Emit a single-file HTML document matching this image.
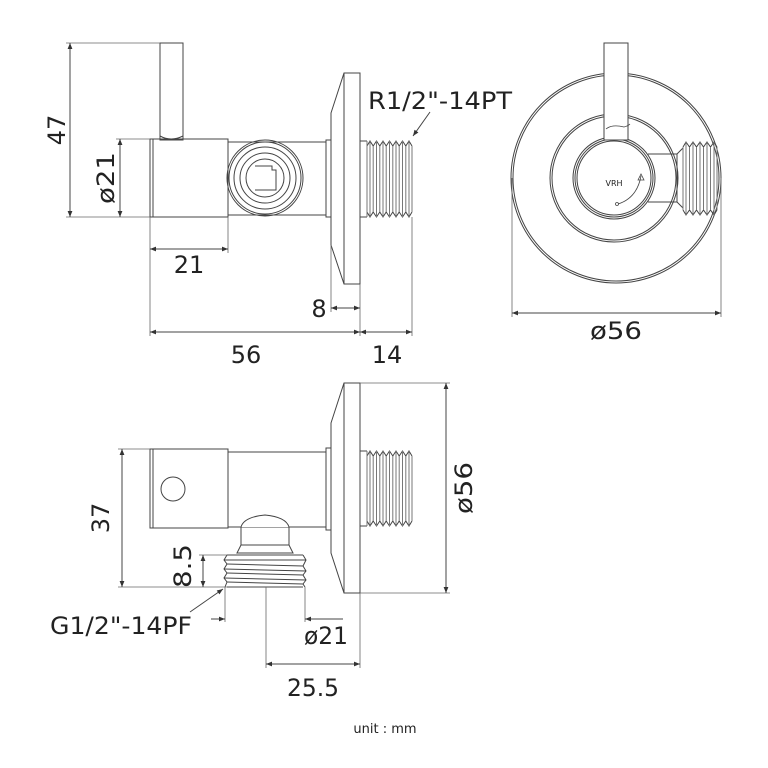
<!DOCTYPE html>
<html><head><meta charset="utf-8"><style>
html,body{margin:0;padding:0;background:#fff;}
svg{display:block;}
text{font-family:"DejaVu Sans","Liberation Sans",sans-serif;fill:#222;}
</style></head><body>
<svg width="768" height="768" viewBox="0 0 768 768" xmlns="http://www.w3.org/2000/svg">
<defs>
<marker id="a" viewBox="0 0 10 10" refX="10" refY="5" markerWidth="8" markerHeight="6" orient="auto-start-reverse" markerUnits="userSpaceOnUse"><path d="M0,1 L10,5 L0,9 z" fill="#333"/></marker>
</defs>
<g fill="none" stroke="#444" stroke-width="1">
<!-- ===== TOP VIEW ===== -->
<rect x="160" y="43" width="23" height="97"/>
<path d="M160,136 Q171,142 183,136"/>
<rect x="150" y="139" width="78" height="78"/>
<line x1="153" y1="139" x2="153" y2="217"/>
<rect x="228" y="142" width="98" height="73"/>
<rect x="326" y="140" width="5" height="77"/>
<circle cx="265" cy="178" r="38"/>
<circle cx="265" cy="178" r="36"/>
<circle cx="265" cy="178" r="31"/>
<circle cx="265" cy="178" r="25"/>
<circle cx="265" cy="178" r="19"/>
<path d="M255,166 L272,166 L272,170 L276,170 L276,190 L255,190"/>
<path d="M331,113 L344,73 L360,73 L360,284 L344,284 L331,245 Z"/>
<line x1="344" y1="73" x2="344" y2="284"/>
<line x1="360" y1="141" x2="367" y2="141"/><line x1="360" y1="217" x2="367" y2="217"/>
<path d="M367,146 L370,141 L373.2,146 L376.5,141 L379.8,146 L383,141 L386.2,146 L389.5,141 L392.8,146 L396,141 L399.2,146 L402.5,141 L405.8,146 L409,141 L412,146"/>
<path d="M367,212 L370,217 L373.2,212 L376.5,217 L379.8,212 L383,217 L386.2,212 L389.5,217 L392.8,212 L396,217 L399.2,212 L402.5,217 L405.8,212 L409,217 L412,212"/>
<path d="M367,141 V217 M370,141 V217 M373.2,146 V212 M376.5,141 V217 M379.8,146 V212 M383,141 V217 M386.2,146 V212 M389.5,141 V217 M392.8,146 V212 M396,141 V217 M399.2,146 V212 M402.5,141 V217 M405.8,146 V212 M409,141 V217 M412,146 V212" stroke="#777"/>
<!-- dims top -->
<g stroke="#666" stroke-width="0.8">
<line x1="66" y1="43" x2="160" y2="43"/>
<line x1="66" y1="217" x2="150" y2="217"/>
<line x1="116" y1="139" x2="150" y2="139"/>
<line x1="150" y1="217" x2="150" y2="336"/>
<line x1="228" y1="217" x2="228" y2="253"/>
<line x1="331" y1="245" x2="331" y2="312"/>
<line x1="360" y1="284" x2="360" y2="336"/>
<line x1="412" y1="217" x2="412" y2="336"/>
</g>
<line x1="70" y1="43" x2="70" y2="217" marker-start="url(#a)" marker-end="url(#a)"/>
<line x1="120" y1="139" x2="120" y2="217" marker-start="url(#a)" marker-end="url(#a)"/>
<line x1="150" y1="249" x2="228" y2="249" marker-start="url(#a)" marker-end="url(#a)"/>
<line x1="331" y1="308" x2="360" y2="308" marker-start="url(#a)" marker-end="url(#a)"/>
<line x1="150" y1="332" x2="360" y2="332" marker-start="url(#a)" marker-end="url(#a)"/>
<line x1="360" y1="332" x2="412" y2="332" marker-start="url(#a)" marker-end="url(#a)"/>
<line x1="430" y1="112" x2="413" y2="136" marker-end="url(#a)"/>

<!-- ===== RIGHT VIEW ===== -->
<circle cx="616" cy="178" r="105"/>
<circle cx="616" cy="178" r="103"/>
<circle cx="614" cy="178" r="64"/>
<circle cx="614" cy="178" r="62"/>
<circle cx="614" cy="178" r="41"/>
<circle cx="614" cy="178" r="39"/>
<circle cx="614" cy="178" r="37"/>
<rect x="604" y="43" width="24" height="97" fill="#fff"/>
<path d="M648,154 L677,154 L683,148 M648,202 L677,202 L683,208 M677,154 V202"/>
<path d="M683,147 L686,142 L689.5,147 L693,142 L696.5,147 L700,142 L703.5,147 L707,142 L710.5,147 L714,142 L717,147"/>
<path d="M683,210 L686,215 L689.5,210 L693,215 L696.5,210 L700,215 L703.5,210 L707,215 L710.5,210 L714,215 L717,210"/>
<path d="M683,147 V210 M686,142 V215 M689.5,147 V210 M693,142 V215 M696.5,147 V210 M700,142 V215 M703.5,147 V210 M707,142 V215 M710.5,147 V210 M714,142 V215 M717,147 V210" stroke="#777"/>
<path d="M606,129 Q612,124 624,127 Q628,126 630,124" stroke-width="0.8"/>
<path d="M618,204 Q637,198 641,176" stroke-width="0.8"/>
<circle cx="617" cy="204" r="1.5" stroke-width="0.8"/>
<path d="M638,180 L641,174 L644,180 Z" stroke-width="0.8"/>
<line x1="512" y1="178" x2="512" y2="317" stroke="#666" stroke-width="0.8"/>
<line x1="721" y1="178" x2="721" y2="317" stroke="#666" stroke-width="0.8"/>
<line x1="512" y1="313" x2="721" y2="313" marker-start="url(#a)" marker-end="url(#a)"/>

<!-- ===== BOTTOM VIEW ===== -->
<rect x="150" y="449" width="78" height="79"/>
<line x1="153" y1="449" x2="153" y2="528"/>
<circle cx="173" cy="489" r="12"/>
<rect x="228" y="452" width="98" height="75"/>
<rect x="326" y="448" width="5" height="82"/>
<path d="M331,423 L344,383 L360,383 L360,593 L344,593 L331,553 Z"/>
<line x1="344" y1="383" x2="344" y2="593"/>
<line x1="360" y1="451" x2="367" y2="451"/><line x1="360" y1="526" x2="367" y2="526"/>
<path d="M367,456 L370,451 L373.2,456 L376.5,451 L379.8,456 L383,451 L386.2,456 L389.5,451 L392.8,456 L396,451 L399.2,456 L402.5,451 L405.8,456 L409,451 L412,456"/>
<path d="M367,521 L370,526 L373.2,521 L376.5,526 L379.8,521 L383,526 L386.2,521 L389.5,526 L392.8,521 L396,526 L399.2,521 L402.5,526 L405.8,521 L409,526 L412,521"/>
<path d="M367,451 V526 M370,451 V526 M373.2,456 V521 M376.5,451 V526 M379.8,456 V521 M383,451 V526 M386.2,456 V521 M389.5,451 V526 M392.8,456 V521 M396,451 V526 M399.2,456 V521 M402.5,451 V526 M405.8,456 V521 M409,451 V526 M412,456 V521" stroke="#777"/>
<!-- down branch -->
<path d="M241,527 V545 M289,527 V545 M241,527 Q244,517 265,515 Q286,517 289,527" fill="#fff"/>
<path d="M241,545 L237,553 L293,553 L289,545 Z"/>
<path d="M227,555 L303,555 M224,560 L306,560 M227,564 L303,566 M224,569 L306,571 M227,573 L303,575 M224,578 L306,580 M227,582 L303,584 M227,587 L303,587" />
<path d="M227,555 L224,560 L227,564 L224,569 L227,573 L224,578 L227,582 L225,587 M303,555 L306,560 L303,566 L306,571 L303,575 L306,580 L303,584 L305,587"/>
<g stroke="#666" stroke-width="0.8">
<line x1="118" y1="449" x2="150" y2="449"/>
<line x1="118" y1="587" x2="227" y2="587"/>
<line x1="199" y1="555" x2="227" y2="555"/>
<line x1="360" y1="383" x2="450" y2="383"/>
<line x1="360" y1="593" x2="450" y2="593"/>
<line x1="225" y1="587" x2="225" y2="622"/>
<line x1="305" y1="587" x2="305" y2="622"/>
<line x1="266" y1="587" x2="266" y2="668"/>
<line x1="360" y1="593" x2="360" y2="668"/>
</g>
<line x1="122" y1="449" x2="122" y2="587" marker-start="url(#a)" marker-end="url(#a)"/>
<line x1="203" y1="555" x2="203" y2="587" marker-start="url(#a)" marker-end="url(#a)"/>
<line x1="446" y1="383" x2="446" y2="593" marker-start="url(#a)" marker-end="url(#a)"/>
<line x1="211" y1="619" x2="225" y2="619" marker-end="url(#a)"/>
<line x1="343" y1="619" x2="305" y2="619" marker-end="url(#a)"/>
<line x1="266" y1="664" x2="360" y2="664" marker-start="url(#a)" marker-end="url(#a)"/>
<line x1="190" y1="612" x2="223" y2="589" marker-end="url(#a)"/>
</g>
<!-- text -->
<g font-size="24">
<text x="58" y="130" text-anchor="middle" transform="rotate(-90 58 130)" dominant-baseline="middle">47</text>
<text x="107" y="178" text-anchor="middle" transform="rotate(-90 107 178)" dominant-baseline="middle" textLength="52" lengthAdjust="spacingAndGlyphs">ø21</text>
<text x="189" y="273" text-anchor="middle">21</text>
<text x="319" y="317" text-anchor="middle">8</text>
<text x="246" y="363" text-anchor="middle">56</text>
<text x="387" y="363" text-anchor="middle">14</text>
<text x="368" y="109" textLength="144" lengthAdjust="spacingAndGlyphs">R1/2"-14PT</text>
<text x="616" y="339" text-anchor="middle" textLength="52" lengthAdjust="spacingAndGlyphs">ø56</text>
<text x="102" y="518" text-anchor="middle" transform="rotate(-90 102 518)" dominant-baseline="middle">37</text>
<text x="184" y="566" text-anchor="middle" transform="rotate(-90 184 566)" dominant-baseline="middle" textLength="44" lengthAdjust="spacingAndGlyphs">8.5</text>
<text x="465" y="488" text-anchor="middle" transform="rotate(-90 465 488)" dominant-baseline="middle" textLength="52" lengthAdjust="spacingAndGlyphs">ø56</text>
<text x="50" y="634" textLength="142" lengthAdjust="spacingAndGlyphs">G1/2"-14PF</text>
<text x="326" y="644" text-anchor="middle" textLength="44" lengthAdjust="spacingAndGlyphs">ø21</text>
<text x="313" y="696" text-anchor="middle" textLength="52" lengthAdjust="spacingAndGlyphs">25.5</text>
</g>
<text x="385" y="733" text-anchor="middle" font-size="13">unit : mm</text>
<text x="614" y="186" text-anchor="middle" font-size="8" fill="#666">VRH</text>
</svg>
</body></html>
